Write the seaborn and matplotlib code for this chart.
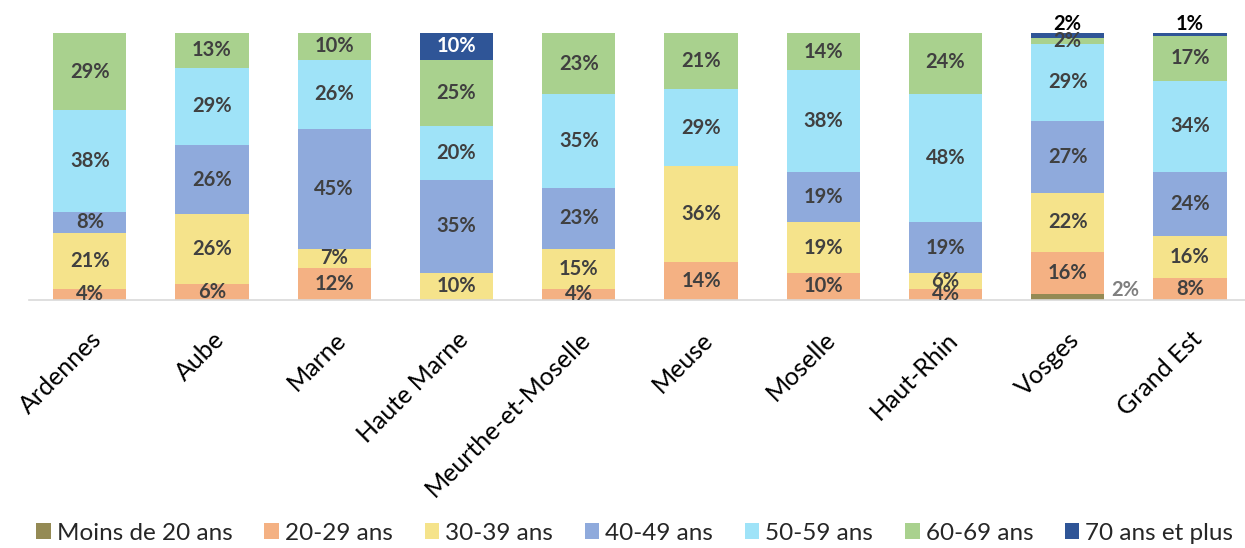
import numpy as np
import pandas as pd
import seaborn as sns
import matplotlib.pyplot as plt

departements = ['Ardennes', 'Aube', 'Marne', 'Haute Marne', 'Meurthe-et-Moselle',
                'Meuse', 'Moselle', 'Haut-Rhin', 'Vosges', 'Grand Est']
tranches = ['Moins de 20 ans', '20-29 ans', '30-39 ans', '40-49 ans',
            '50-59 ans', '60-69 ans', '70 ans et plus']

moins_20 = [0, 0, 0, 0, 0, 0, 0, 0, 2, 0]
ans_20_29 = [4, 6, 12, 0, 4, 14, 10, 4, 16, 8]
ans_30_39 = [21, 26, 7, 10, 15, 36, 19, 6, 22, 16]
ans_40_49 = [8, 26, 45, 35, 23, 0, 19, 19, 27, 24]
ans_50_59 = [38, 29, 26, 20, 35, 29, 38, 48, 29, 34]
ans_60_69 = [29, 13, 10, 25, 23, 21, 14, 24, 2, 17]
ans_70_plus = [0, 0, 0, 10, 0, 0, 0, 0, 2, 1]

couleurs = ['#948A54', '#F4B183', '#F5E38B', '#8FAADC', '#9FE3F8', '#A9D18E', '#2F5597']

series = [moins_20, ans_20_29, ans_30_39, ans_40_49, ans_50_59, ans_60_69, ans_70_plus]

sns.set_theme(style='white')
plt.rcParams['font.family'] = ['Lato', 'DejaVu Sans']

fig = plt.figure(figsize=(12.45, 5.48), dpi=100)
ax = fig.add_axes([0.023, 0.453, 0.977, 0.487])

fs_lab = 14.5
bottom = np.zeros(len(departements))
for k, (nom, vals) in enumerate(zip(tranches, series)):
    vals = np.array(vals) / 100
    df = pd.DataFrame({'dep': departements, 'val': vals})
    sns.barplot(data=df, x='dep', y='val', bottom=bottom, color=couleurs[k],
                width=0.6, saturation=1, ax=ax, label=nom, linewidth=0)
    for i, v in enumerate(vals):
        if v <= 0:
            continue
        yc = bottom[i] + v / 2
        txt = f'{v * 100:.0f}%'
        if k == 0:
            ax.text(i + 0.47, 0.035, txt, ha='center', va='center', fontsize=fs_lab,
                    fontweight='bold', color='#7F7F7F')
        elif k == 6 and v < 0.05:
            ax.text(i, bottom[i] + v - 0.005, txt, ha='center', va='bottom', fontsize=fs_lab,
                    fontweight='bold', color='black')
        elif k == 6:
            ax.text(i, yc, txt, ha='center', va='center', fontsize=fs_lab,
                    fontweight='bold', color='white')
        else:
            ax.text(i, yc, txt, ha='center', va='center', fontsize=fs_lab,
                    fontweight='bold', color='#404040')
    bottom = bottom + vals

ax.get_legend().remove()
ax.set_ylim(0, 1)
ax.set_xlim(-0.5, 9.45)
ax.set_xlabel('')
ax.set_ylabel('')
ax.set_yticks([])
for s in ['top', 'right', 'left']:
    ax.spines[s].set_visible(False)
ax.spines['bottom'].set_color('#D9D9D9')
ax.spines['bottom'].set_linewidth(1.2)
ax.tick_params(axis='x', length=0, pad=20)
ax.set_xticks(range(len(departements)))
ax.set_xticklabels(departements, rotation=45, ha='right', rotation_mode='anchor',
                   fontsize=18, color='black')

handles, labels = ax.get_legend_handles_labels()
fig.legend(handles, labels, loc='lower center', ncol=7, frameon=False,
           bbox_to_anchor=(0.51, -0.032), fontsize=17.5, handlelength=0.6, handleheight=0.6,
           handletextpad=0.25, columnspacing=1.3)

fig.savefig('out.png', dpi=100)
